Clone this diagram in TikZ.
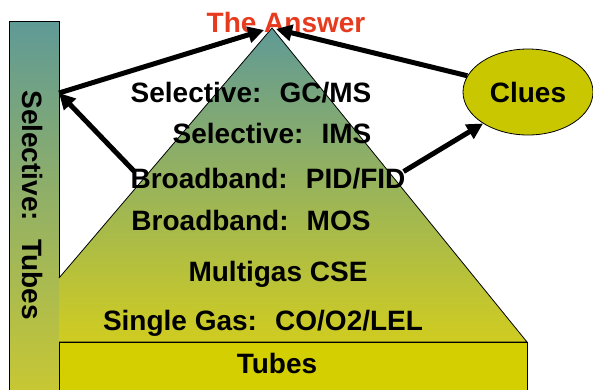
\documentclass[tikz,border=0pt]{standalone}
\usepackage{fontspec}
\setmainfont{Liberation Sans}
\usepackage{xcolor}
\definecolor{myteal}{HTML}{5F9A96}
\definecolor{myolive}{HTML}{C9C832}
\definecolor{mybase}{HTML}{D0CC20}
\definecolor{myyellow}{HTML}{D4CF00}
\definecolor{mylime}{HTML}{C9C700}
\definecolor{myred}{HTML}{E63B1E}
\usepackage{tikz}
\usetikzlibrary{positioning,shapes.geometric,arrows.meta}

\begin{document}
\begin{tikzpicture}[x=1pt, y=-1pt,
  txt/.style = {font=\fontsize{28}{30}\selectfont\bfseries, inner sep=0pt},
  lbl/.style = {txt, anchor=base},
  arr/.style = {line width=5pt, -{Triangle[length=16pt,width=16pt]}}]
  \useasboundingbox (0,0) rectangle (593,389);
  % tube bar on the left
  \shadedraw[top color=myteal, bottom color=myolive, draw=black, line width=1pt] (9,21) rectangle (59,395);
  % pyramid and its base
  \shadedraw[top color=myteal, bottom color=mybase, draw=black, line width=0.8pt] (59,278) -- (272,28) -- (527,342) -- (59,342);
  \filldraw[fill=myyellow, draw=black, line width=0.8pt] (59,342) rectangle (527,395);
  \node[ellipse, draw=black, fill=mylime, line width=0.8pt, minimum width=130pt, minimum height=86pt, txt] (clues) at (528,92) {Clues};
  % labels
  \node[lbl, text=myred] (answer) at (286,32) {The Answer};
  \node[lbl] (gcms) at (251,102) {Selective:~ GC/MS};
  \node[lbl] (ims) at (272,143) {Selective:~ IMS};
  \node[lbl] (pid) at (268,188) {Broadband:~ PID/FID};
  \node[lbl] (mos) at (251,230) {Broadband:~ MOS};
  \node[lbl] (cse) at (278,281) {Multigas CSE};
  \node[lbl] (single) at (263,330) {Single Gas:~ CO/O2/LEL};
  \node[lbl] (tubes) at (277,373) {Tubes};
  \node[lbl, rotate=-90] (bartext) at (22,205) {Selective:~ Tubes};
  % arrows
  \coordinate (barpt) at (59,93);
  \coordinate (apexL) at (264,30);
  \coordinate (apexR) at (276,29);
  \draw[arr] (barpt) -- (apexL);
  \draw[arr] (clues.165) -- (apexR);
  \draw[arr] ([shift={(4,4)}]pid.north west) -- (barpt);
  \draw[arr] ([shift={(-2,4)}]pid.north east) -- (clues.215);
\end{tikzpicture}
\end{document}
